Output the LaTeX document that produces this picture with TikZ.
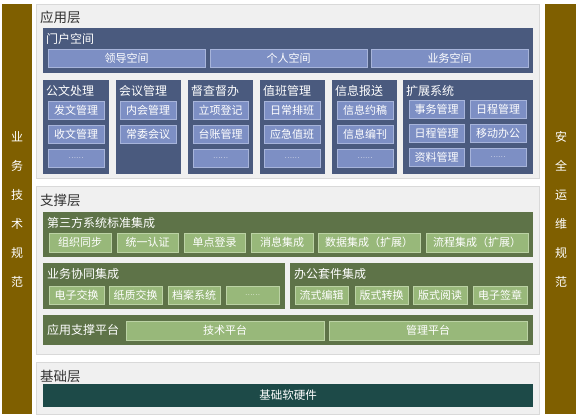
\documentclass[tikz,border=0pt]{standalone}
\usepackage{fontspec}
\setmainfont{Noto Sans CJK SC}
\definecolor{barc}{HTML}{7F5F00}
\definecolor{panelc}{HTML}{F0F0F0}
\definecolor{panelb}{HTML}{D9D9D9}
\definecolor{bdark}{HTML}{4A5A7E}
\definecolor{bsubf}{HTML}{7D8FC4}
\definecolor{bsubb}{HTML}{A7B4DA}
\definecolor{gdark}{HTML}{5E7348}
\definecolor{gsubf}{HTML}{98B87A}
\definecolor{gsubb}{HTML}{BBD2A4}
\definecolor{tealc}{HTML}{1D4A48}
\definecolor{titc}{HTML}{333333}
\newcommand{\bx}[7]{\node[#1, minimum width={#4-#2}, minimum height={#5-#3}] (#6) at ({(#2+#4)/2},{(#3+#5)/2}) {#7};}
\tikzset{
  base/.style={inner sep=0pt, outer sep=0pt, rectangle},
  sidebar/.style={base, fill=barc},
  panel/.style={base, fill=panelc, draw=panelb, line width=0.8pt},
  bcont/.style={base, fill=bdark},
  bsub/.style={base, fill=bsubf, draw=bsubb, line width=1pt, text=white, font=\fontsize{11}{12}\selectfont},
  gcont/.style={base, fill=gdark},
  gsub/.style={base, fill=gsubf, draw=gsubb, line width=1pt, text=white, font=\fontsize{11}{12}\selectfont},
  tcont/.style={base, fill=tealc, text=white, font=\fontsize{11.5}{13}\selectfont},
  layertitle/.style={anchor=west, inner sep=0pt, text=titc, font=\fontsize{13.5}{15}\selectfont},
  boxtitle/.style={anchor=west, inner sep=0pt, text=white, font=\fontsize{12}{14}\selectfont},
  sidetext/.style={inner sep=0pt, text=white, align=center, font=\fontsize{12}{29}\selectfont},
}
\newcommand{\mydots}{\fontsize{7}{8}\selectfont ……}
\begin{document}
\begin{tikzpicture}[x=1pt,y=-1pt]
\useasboundingbox (0,0) rectangle (581,418);
\fill[white] (0,0) rectangle (581,418);
% side bars
\bx{sidebar}{2}{4}{32}{414}{lbar}{}
\bx{sidebar}{545}{4}{576}{414}{rbar}{}
\node[sidetext] (ltext) at (17,209) {业\\务\\技\\术\\规\\范};
\node[sidetext] (rtext) at (561,209) {安\\全\\运\\维\\规\\范};
% layer panels
\bx{panel}{36}{4}{539}{178}{pa}{}
\bx{panel}{36}{186}{539}{354}{pb}{}
\bx{panel}{36}{362}{539}{414}{pc}{}
\node[layertitle] (ta) at (40,17) {应用层};
\node[layertitle] (tb) at (40,200) {支撑层};
\node[layertitle] (tc) at (40,376) {基础层};
% portal
\bx{bcont}{43}{28}{533}{73}{portal}{}
\node[boxtitle] (tportal) at (46,39) {门户空间};
\bx{bsub}{48}{49}{205}{67}{p1}{领导空间}
\bx{bsub}{210}{49}{367}{67}{p2}{个人空间}
\bx{bsub}{371}{49}{528}{67}{p3}{业务空间}
% row of blue boxes
\bx{bcont}{43}{80}{109}{174}{c1}{}
\node[boxtitle] (tc1) at (46,91) {公文处理};
\bx{bsub}{48}{101}{104}{119}{c1a}{发文管理}
\bx{bsub}{48}{125}{104}{143}{c1b}{收文管理}
\bx{bsub}{48}{149}{104}{167}{c1c}{\mydots}
\bx{bcont}{116}{80}{181}{174}{c2}{}
\node[boxtitle] (tc2) at (119,91) {会议管理};
\bx{bsub}{120}{101}{176}{119}{c2a}{内会管理}
\bx{bsub}{120}{125}{176}{143}{c2b}{常委会议}
\bx{bcont}{188}{80}{253}{174}{c3}{}
\node[boxtitle] (tc3) at (191,91) {督查督办};
\bx{bsub}{193}{101}{248}{119}{c3a}{立项登记}
\bx{bsub}{193}{125}{248}{143}{c3b}{台账管理}
\bx{bsub}{193}{149}{248}{167}{c3c}{\mydots}
\bx{bcont}{260}{80}{325}{174}{c4}{}
\node[boxtitle] (tc4) at (263,91) {值班管理};
\bx{bsub}{264}{101}{320}{119}{c4a}{日常排班}
\bx{bsub}{264}{125}{320}{143}{c4b}{应急值班}
\bx{bsub}{264}{149}{320}{167}{c4c}{\mydots}
\bx{bcont}{332}{80}{397}{174}{c5}{}
\node[boxtitle] (tc5) at (335,91) {信息报送};
\bx{bsub}{337}{101}{393}{119}{c5a}{信息约稿}
\bx{bsub}{337}{125}{393}{143}{c5b}{信息编刊}
\bx{bsub}{337}{149}{393}{167}{c5c}{\mydots}
\bx{bcont}{403}{80}{533}{174}{c6}{}
\node[boxtitle] (tc6) at (406,91) {扩展系统};
\bx{bsub}{409}{100}{464}{118}{c6a}{事务管理}
\bx{bsub}{470}{100}{526}{118}{c6b}{日程管理}
\bx{bsub}{409}{124}{464}{142}{c6c}{日程管理}
\bx{bsub}{470}{124}{526}{142}{c6d}{移动办公}
\bx{bsub}{409}{148}{464}{166}{c6e}{资料管理}
\bx{bsub}{470}{148}{526}{166}{c6f}{\mydots}
% support layer
\bx{gcont}{43}{212}{533}{257}{g1}{}
\node[boxtitle] (tg1) at (47,223) {第三方系统标准集成};
\bx{gsub}{49}{233}{111}{252}{g1a}{组织同步}
\bx{gsub}{117}{233}{178}{252}{g1b}{统一认证}
\bx{gsub}{184}{233}{245}{252}{g1c}{单点登录}
\bx{gsub}{251}{233}{313}{252}{g1d}{消息集成}
\bx{gsub}{318}{233}{420}{252}{g1e}{数据集成（扩展）}
\bx{gsub}{426}{233}{528}{252}{g1f}{流程集成（扩展）}
\bx{gcont}{43}{263}{285}{309}{g2}{}
\node[boxtitle] (tg2) at (47,274) {业务协同集成};
\bx{gsub}{49}{286}{104}{304}{g2a}{电子交换}
\bx{gsub}{109}{286}{162}{304}{g2b}{纸质交换}
\bx{gsub}{168}{286}{220}{304}{g2c}{档案系统}
\bx{gsub}{226}{286}{279}{304}{g2d}{\mydots}
\bx{gcont}{290}{263}{533}{309}{g3}{}
\node[boxtitle] (tg3) at (294,274) {办公套件集成};
\bx{gsub}{295}{286}{348}{304}{g3a}{流式编辑}
\bx{gsub}{355}{286}{408}{304}{g3b}{版式转换}
\bx{gsub}{413}{286}{467}{304}{g3c}{版式阅读}
\bx{gsub}{473}{286}{527}{304}{g3d}{电子签章}
\bx{gcont}{43}{315}{533}{345}{g4}{}
\node[boxtitle] (tg4) at (47,330) {应用支撑平台};
\bx{gsub}{126}{321}{324}{340}{g4a}{技术平台}
\bx{gsub}{329}{321}{527}{340}{g4b}{管理平台}
% base layer
\bx{tcont}{43}{384}{533}{407}{hw}{基础软硬件}
\end{tikzpicture}
\end{document}
